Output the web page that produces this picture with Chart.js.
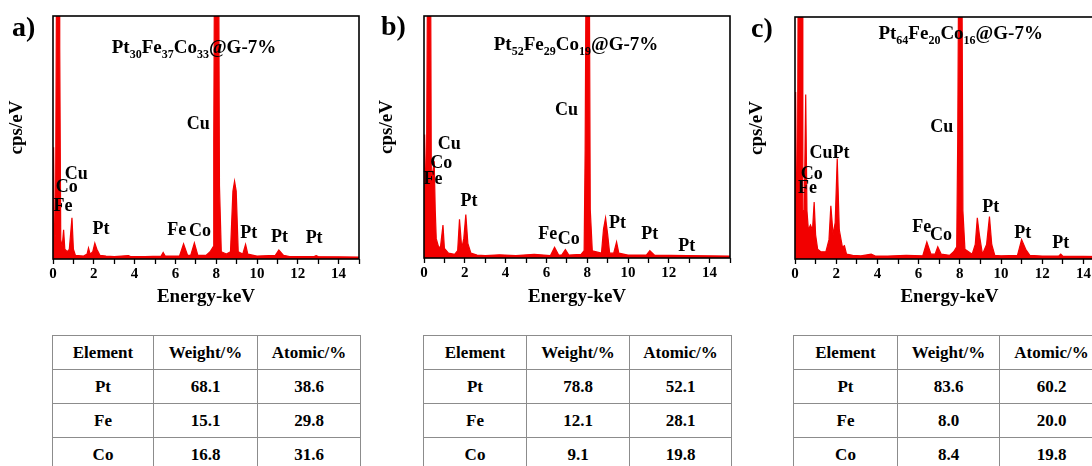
<!DOCTYPE html>
<html>
<head>
<meta charset="utf-8">
<script src="https://cdn.jsdelivr.net/npm/chart.js@4.4.0/dist/chart.umd.min.js"></script>
<style>
  html, body { margin: 0; padding: 0; background: #fff; width: 1092px; height: 466px; overflow: hidden; position: relative; }
  body { font-family: 'Liberation Serif', 'Times New Roman', serif; }
  canvas.panel { position: absolute; top: 0; }
  table.eds { position: absolute; top: 335px; border-collapse: collapse; font-weight: bold; font-size: 17px; color: #000; }
  table.eds td { border: 1px solid #8c8c8c; height: 33px; text-align: center; padding: 0; }
</style>
</head>
<body>
<canvas id="specA" class="panel" width="370" height="310" style="left:0px"></canvas>
<canvas id="specB" class="panel" width="370" height="310" style="left:370px"></canvas>
<canvas id="specC" class="panel" width="380" height="310" style="left:740px"></canvas>

<table id="tabA" class="eds" style="left:52px"></table>
<table id="tabB" class="eds" style="left:423px"></table>
<table id="tabC" class="eds" style="left:793px"></table>

<script>
/* ── Spectra (energy in keV, counts in arbitrary units, 100 = top of frame) ── */
const energyA = [0, 0.03, 0.07, 0.12, 0.18, 0.30, 0.33, 0.38, 0.45, 0.52, 0.58, 0.70, 0.80, 0.93, 1.00, 1.10, 1.50, 1.67, 1.74, 1.82, 1.95, 2.05, 2.15, 2.30, 2.60, 3.00, 3.70, 3.80, 4.50, 5.30, 5.40, 5.50, 6.20, 6.40, 6.60, 6.75, 6.93, 7.10, 7.50, 7.70, 7.85, 7.88, 7.92, 8.12, 8.16, 8.25, 8.50, 8.70, 8.82, 8.90, 8.98, 9.08, 9.30, 9.44, 9.55, 10.0, 10.9, 11.07, 11.3, 11.6, 12.8, 12.9, 13.0, 15.0];
const countsA = [2, 46, 8, 10, 130, 130, 87, 8, 5, 12, 4, 3, 4, 17, 4, 1.5, 1.2, 2, 4.5, 2, 3, 6.5, 4, 1.5, 1.2, 1, 1.4, 1, 1, 1.2, 2.7, 1.2, 1.2, 6.2, 1.5, 1.5, 6.6, 1.5, 1.5, 3, 5, 49, 130, 130, 30, 3, 2, 3, 28, 32, 28, 3, 2, 6, 2, 1.2, 1.5, 3.7, 1.5, 1, 1, 1.4, 1, 0.8];

const energyB = [0, 0.03, 0.07, 0.12, 0.18, 0.32, 0.36, 0.42, 0.50, 0.55, 0.60, 0.70, 0.80, 0.93, 1.00, 1.20, 1.50, 1.65, 1.74, 1.85, 1.95, 2.05, 2.15, 2.30, 2.60, 3.00, 3.70, 4.50, 5.40, 6.20, 6.40, 6.60, 6.75, 6.93, 7.10, 7.70, 7.85, 7.90, 7.95, 8.10, 8.15, 8.25, 8.70, 8.80, 8.90, 9.00, 9.10, 9.30, 9.44, 9.55, 10.0, 10.9, 11.07, 11.3, 12.9, 15.0];
const countsB = [2, 51, 35, 30, 130, 130, 30, 35, 40, 20, 8, 5, 4, 13.6, 4, 2, 1.5, 3, 16, 4, 8, 18, 6, 2, 1.2, 1, 1.3, 1, 1.5, 1, 4.4, 1.2, 1.2, 3.5, 1.2, 1.5, 3, 45, 130, 130, 20, 3, 2, 12, 16.6, 10, 2, 2, 6.6, 2, 1.2, 1.2, 3, 1.2, 1, 0.8];

const energyC = [0, 0.03, 0.07, 0.12, 0.16, 0.35, 0.38, 0.45, 0.52, 0.58, 0.65, 0.75, 0.85, 0.93, 1.00, 1.10, 1.25, 1.50, 1.65, 1.74, 1.85, 1.95, 2.05, 2.15, 2.30, 2.40, 2.50, 2.80, 3.20, 3.70, 3.90, 4.50, 5.40, 6.20, 6.40, 6.60, 6.80, 6.93, 7.10, 7.50, 7.70, 7.85, 7.90, 7.95, 8.10, 8.15, 8.25, 8.60, 8.75, 8.85, 8.95, 9.10, 9.30, 9.44, 9.55, 9.70, 10.0, 10.8, 11.0, 11.2, 11.4, 12.0, 12.8, 12.9, 13.0, 15.0];
const countsC = [2, 69, 30, 30, 130, 130, 20, 20, 68, 20, 12, 14, 12, 23.5, 10, 4, 3, 3, 8, 22, 10, 15, 41.5, 12, 5, 5.5, 2, 1.5, 1.3, 2, 1.2, 1.2, 1.5, 1.3, 7, 2, 2, 5, 2, 1.5, 3, 5, 50, 130, 130, 20, 4, 2, 6, 17, 10, 2, 6, 17.5, 6, 1.5, 1.3, 1.5, 8, 4, 1.5, 1.2, 1.2, 2, 1.2, 1];

/* ── Peak labels: text, energy, height ── */
const peaksA = [['Cu', 7.12, 55.4], ['Cu', 1.14, 35], ['Co', 0.68, 29.3], ['Fe', 0.49, 21.7], ['Pt', 2.35, 12.4],
                ['Fe', 6.06, 11.7], ['Co', 7.2, 11.4], ['Pt', 9.6, 10.7], ['Pt', 11.1, 8.9], ['Pt', 12.8, 8.3]];
const peaksB = [['Cu', 6.98, 61], ['Cu', 1.24, 46.8], ['Co', 0.84, 39], ['Fe', 0.44, 32.5], ['Pt', 2.21, 23.5],
                ['Fe', 6.06, 9.7], ['Co', 7.1, 7.6], ['Pt', 9.48, 14.5], ['Pt', 11.07, 9.7], ['Pt', 12.88, 4.8]];
const peaksC = [['Cu', 7.12, 54.4], ['CuPt', 1.67, 43.6], ['Co', 0.81, 35], ['Fe', 0.61, 29], ['Fe', 6.15, 12.9],
                ['Co', 7.09, 9.7], ['Pt', 9.5, 21.4], ['Pt', 11.05, 10.4], ['Pt', 12.9, 6.5]];

/* ── Sample names (text, isSubscript) ── */
const nameA = [['Pt', 0], ['30', 1], ['Fe', 0], ['37', 1], ['Co', 0], ['33', 1], ['@G-7%', 0]];
const nameB = [['Pt', 0], ['52', 1], ['Fe', 0], ['29', 1], ['Co', 0], ['19', 1], ['@G-7%', 0]];
const nameC = [['Pt', 0], ['64', 1], ['Fe', 0], ['20', 1], ['Co', 0], ['16', 1], ['@G-7%', 0]];

/* ── Composition tables ── */
const tableHead = ['Element', 'Weight/%', 'Atomic/%'];
const elements  = ['Pt', 'Fe', 'Co'];
const weightA = [68.1, 15.1, 16.8], atomicA = [38.6, 29.8, 31.6];
const weightB = [78.8, 12.1, 9.1],  atomicB = [52.1, 28.1, 19.8];
const weightC = [83.6, 8.0, 8.4],   atomicC = [60.2, 20.0, 19.8];

const SERIF = "'Liberation Serif', 'Times New Roman', serif";

/* ── Frame, panel letter, axis label, sample name, peak labels ── */
const edsDecor = {
  id: 'edsDecor',
  afterDraw(chart, args, o) {
    const { ctx, chartArea: a, scales: { x, y } } = chart;
    ctx.save();
    ctx.strokeStyle = '#000';
    ctx.lineWidth = 1.6;
    ctx.strokeRect(a.left, a.top, a.right - a.left, a.bottom - a.top);

    ctx.fillStyle = '#000';
    ctx.textBaseline = 'alphabetic';
    ctx.textAlign = 'left';
    ctx.font = `bold 28px ${SERIF}`;
    ctx.fillText(o.letter, o.letterX, o.letterY);

    // rotated y label, sitting a bit above the frame centre like the original
    ctx.save();
    ctx.translate(17, (a.top + a.bottom) / 2 - 10);
    ctx.rotate(-Math.PI / 2);
    ctx.textAlign = 'center';
    ctx.textBaseline = 'middle';
    ctx.font = `bold 19px ${SERIF}`;
    ctx.fillText('cps/eV', 0, 0);
    ctx.restore();

    // sample name with subscripts
    let px = x.getPixelForValue(o.nameX);
    const py = y.getPixelForValue(o.nameY) + 6;
    o.name.forEach(([t, sub]) => {
      ctx.font = sub ? `bold 12px ${SERIF}` : `bold 19px ${SERIF}`;
      ctx.fillText(t, px, sub ? py + 5 : py);
      px += ctx.measureText(t).width;
    });

    ctx.textAlign = 'center';
    ctx.textBaseline = 'middle';
    ctx.font = `bold 18px ${SERIF}`;
    o.peaks.forEach(([t, e, h]) => ctx.fillText(t, x.getPixelForValue(e), y.getPixelForValue(h)));
    ctx.restore();
  }
};

function makeSpectrum(id, energy, counts, lay, deco) {
  new Chart(document.getElementById(id), {
    type: 'line',
    data: {
      datasets: [{
        data: energy.map((e, i) => ({ x: e, y: counts[i] })),
        borderColor: '#f20000',
        backgroundColor: '#f20000',
        borderWidth: 1.2,
        fill: 'origin',
        pointRadius: 0,
        tension: 0,
      }],
    },
    options: {
      responsive: false, animation: false,
      layout: { padding: { top: lay.top, right: lay.right, left: 0, bottom: 0 } },
      plugins: { legend: { display: false }, tooltip: { enabled: false }, edsDecor: deco },
      scales: {
        x: {
          type: 'linear', min: 0, max: 15,
          border: { display: false },
          grid: { display: true, drawOnChartArea: false, tickLength: 5, tickColor: '#000', tickWidth: 1.3 },
          ticks: {
            stepSize: 1, autoSkip: false, maxRotation: 0, padding: 1, color: '#000',
            font: { family: SERIF, weight: 'bold', size: 15 },
            callback: v => (v % 2 === 0 ? String(v) : ''),
          },
          title: { display: true, text: 'Energy-keV', color: '#000', padding: { top: 0, bottom: 2 },
                   font: { family: SERIF, weight: 'bold', size: 19 } },
          afterFit: s => { s.height = lay.xh; },
        },
        y: {
          min: 0, max: 100,
          border: { display: false },
          grid: { display: false },
          ticks: { display: false },
          title: { display: false },
          afterFit: s => { s.width = lay.yw; },
        },
      },
    },
    plugins: [edsDecor],
  });
}

makeSpectrum('specA', energyA, countsA, { top: 16, right: 11, xh: 51, yw: 53 },
  { letter: 'a)', letterX: 12, letterY: 36, name: nameA, nameX: 2.88, nameY: 87.3, peaks: peaksA });
makeSpectrum('specB', energyB, countsB, { top: 16, right: 10, xh: 52, yw: 54 },
  { letter: 'b)', letterX: 11, letterY: 35, name: nameB, nameX: 3.42, nameY: 88.6, peaks: peaksB });
makeSpectrum('specC', energyC, countsC, { top: 17, right: 16, xh: 51, yw: 55 },
  { letter: 'c)', letterX: 11, letterY: 37, name: nameC, nameX: 4.05, nameY: 93.4, peaks: peaksC });

/* ── Tables ── */
function fillTable(id, weight, atomic, widths) {
  const tab = document.getElementById(id);
  const cols = widths.map(w => `<col style="width:${w}px">`).join('');
  const head = `<tr>${tableHead.map(h => `<td>${h}</td>`).join('')}</tr>`;
  const rows = elements.map((el, i) =>
    `<tr><td>${el}</td><td>${weight[i].toFixed(1)}</td><td>${atomic[i].toFixed(1)}</td></tr>`).join('');
  tab.style.width = widths.reduce((s, w) => s + w, 0) + 'px';
  tab.style.tableLayout = 'fixed';
  tab.innerHTML = `<colgroup>${cols}</colgroup>${head}${rows}`;
}

fillTable('tabA', weightA, atomicA, [101, 104, 103]);
fillTable('tabB', weightB, atomicB, [103, 103, 102]);
fillTable('tabC', weightC, atomicC, [104, 102, 104]);
</script>
</body>
</html>
